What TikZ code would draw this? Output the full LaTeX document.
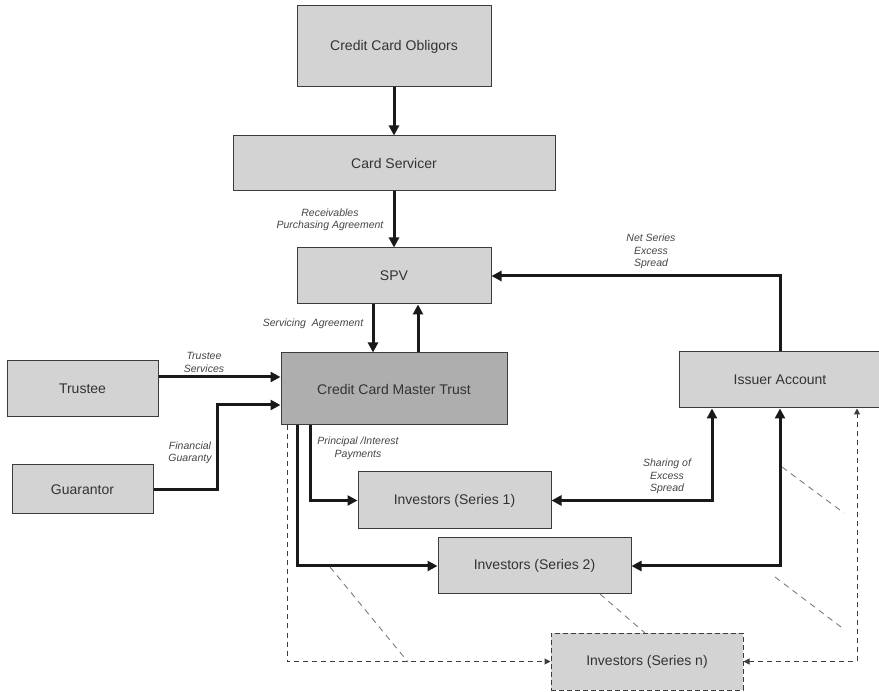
\documentclass[tikz,border=0pt]{standalone}
\usepackage{fontspec}
\setmainfont{Liberation Sans}
\usetikzlibrary{arrows.meta}
\definecolor{boxgray}{HTML}{D3D3D3}
\definecolor{trustgray}{HTML}{AEAEAE}
\definecolor{bordergray}{HTML}{3C3C3C}
\definecolor{txtgray}{HTML}{333333}
\definecolor{lblgray}{HTML}{444444}
\definecolor{diaggray}{HTML}{7A7A7A}
\tikzset{
  box/.style={draw=bordergray, line width=1pt, fill=boxgray, inner sep=0pt,
    text=txtgray, font=\fontsize{14}{16}\selectfont},
  flow/.style={line width=3pt, draw=black!90, line cap=butt,
    -{Triangle[length=10pt,width=10pt]}},
  flowboth/.style={line width=3pt, draw=black!90,
    {Triangle[length=10pt,width=10pt]}-{Triangle[length=10pt,width=10pt]}},
  dflow/.style={line width=1pt, draw=bordergray, dash pattern=on 5pt off 4pt,
    -{Triangle[length=6pt,width=6pt]}},
  dflowboth/.style={line width=1pt, draw=bordergray, dash pattern=on 5pt off 4pt,
    {Triangle[length=6pt,width=6pt]}-{Triangle[length=6pt,width=6pt]}},
  diag/.style={line width=0.9pt, draw=diaggray, dash pattern=on 6pt off 5pt},
  lbl/.style={text=lblgray, font=\fontsize{10.5}{12.5}\selectfont\itshape, align=center, inner sep=0pt}
}
\begin{document}
\begin{tikzpicture}[x=1pt,y=-1pt]
\useasboundingbox (0,0) rectangle (879,692);
% nodes
\node[box, minimum width=194pt, minimum height=81pt] (obl) at (394,46.5) {Credit Card Obligors};
\node[box, minimum width=322pt, minimum height=55pt] (serv) at (394,163.5) {Card Servicer};
\node[box, minimum width=194pt, minimum height=56pt] (spv) at (394,276) {SPV};
\node[box, fill=trustgray, minimum width=226pt, minimum height=72pt] (trust) at (394,389) {Credit Card Master Trust};
\node[box, minimum width=151pt, minimum height=56pt] (trustee) at (82.5,389) {Trustee};
\node[box, minimum width=141pt, minimum height=49pt] (guar) at (82.5,489.5) {Guarantor};
\node[box, minimum width=202pt, minimum height=56pt] (issuer) at (780,380) {Issuer Account};
\node[box, minimum width=193pt, minimum height=57pt] (s1) at (454.5,500.5) {Investors (Series 1)};
\node[box, minimum width=193pt, minimum height=56pt] (s2) at (534.5,566) {Investors (Series 2)};
\node[box, dash pattern=on 5pt off 3pt, minimum width=192pt, minimum height=57pt] (sn) at (647,661.5) {Investors (Series n)};
% corner coordinates
\coordinate (g1) at (217,489.5);
\coordinate (p1) at (310,500.5);
\coordinate (p2) at (297,566);
\coordinate (p3) at (287,661.5);
\coordinate (q1) at (712,500.5);
\coordinate (q2) at (780,566);
\coordinate (q3) at (857,661.5);
\coordinate (n1) at (780,276);
% connectors
\draw[flow] (obl.south) -- (serv.north);
\draw[flow] (serv.south) -- (spv.north);
\draw[flow] ([xshift=-21pt]spv.south) -- ([xshift=-21pt]trust.north);
\draw[flow] ([xshift=24pt]trust.north) -- ([xshift=24pt]spv.south);
\draw[flow] ([yshift=12pt]trustee.east) -- ([yshift=12pt]trust.west);
\draw[flow] (guar.east) -- (g1) |- ([yshift=-16pt]trust.west);
\draw[flow] ([xshift=-84pt]trust.south) -- (p1) -- (s1.west);
\draw[flow] ([xshift=-97pt]trust.south) -- (p2) -- (s2.west);
\draw[dflow] ([xshift=-107pt]trust.south) -- (p3) -- (sn.west);
\draw[flowboth] (s1.east) -- (q1) -- ([xshift=-68pt]issuer.south);
\draw[flowboth] (s2.east) -- (q2) -- (issuer.south);
\draw[dflowboth] (sn.east) -- (q3) -- ([xshift=77pt]issuer.south);
\draw[flow] (issuer.north) -- (n1) -- (spv.east);
% continuation marks
\draw[diag] (330,567) -- (408,662);
\draw[diag] (600,594) -- (645,633);
\draw[diag] (782,467) -- (844,513);
\draw[diag] (775,577) -- (841,627);
% labels
\node[lbl] (l1) at (330,220) {Receivables\\Purchasing Agreement};
\node[lbl] (l2) at (313,324) {Servicing\ \ Agreement};
\node[lbl] (l3) at (204,362.5) {Trustee\\Services};
\node[lbl] (l4) at (190,453) {Financial\\Guaranty};
\node[lbl] (l5) at (358,448.5) {Principal /Interest\\Payments};
\node[lbl] (l6) at (667,476.5) {Sharing of\\Excess\\Spread};
\node[lbl] (l7) at (651,251.5) {Net Series\\Excess\\Spread};
\end{tikzpicture}
\end{document}
